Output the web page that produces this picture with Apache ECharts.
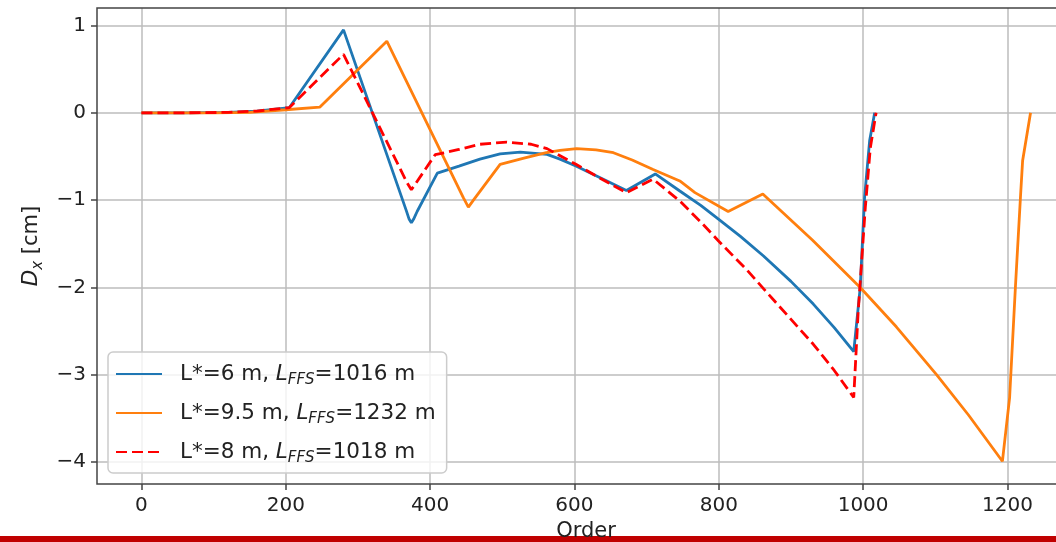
<!DOCTYPE html>
<html>
<head>
<meta charset="utf-8">
<script src="https://cdn.jsdelivr.net/npm/echarts@6/dist/echarts.min.js"></script>
<style>
html,body{margin:0;padding:0;background:#fff;overflow:hidden;width:1056px;height:542px;}
#c{position:relative;z-index:1;width:1080px;height:542px;}
#bar{position:absolute;left:0;top:536px;width:1056px;height:6px;background:#c00000;z-index:0;}
</style>
</head>
<body>
<div id="bar"></div>
<div id="c"></div>
<script>
// ---- data ----
const seriesNames = ['L*=6 m, {i|L}{s|FFS}=1016 m', 'L*=9.5 m, {i|L}{s|FFS}=1232 m', 'L*=8 m, {i|L}{s|FFS}=1018 m'];
const xTicks = [0, 200, 400, 600, 800, 1000, 1200];
const yTicks = [-4, -3, -2, -1, 0, 1];

const blueOrder = [0, 60, 120, 160, 205, 280, 367, 371, 374, 377, 382, 410, 440, 469, 497, 525, 562, 580, 602, 640, 672, 712, 746, 775, 800, 830, 862, 900, 931, 960, 987, 996, 1002, 1009, 1016];
const blueDx    = [0, 0, 0.005, 0.02, 0.06, 0.95, -1.12, -1.22, -1.26, -1.22, -1.13, -0.69, -0.61, -0.53, -0.47, -0.45, -0.476, -0.53, -0.61, -0.76, -0.89, -0.70, -0.895, -1.06, -1.22, -1.415, -1.64, -1.93, -2.19, -2.46, -2.735, -2.0, -0.97, -0.32, 0];

const orangeOrder = [0, 100, 150, 200, 247, 340, 446, 453, 460, 497, 530, 561, 580, 603, 630, 654, 680, 709, 746, 767, 813, 861, 930, 996, 1046, 1102, 1146, 1193, 1203, 1211, 1218, 1221, 1232];
const orangeDx    = [0, 0, 0.005, 0.035, 0.065, 0.82, -0.97, -1.08, -1.0, -0.59, -0.52, -0.457, -0.43, -0.41, -0.425, -0.457, -0.54, -0.65, -0.78, -0.914, -1.13, -0.93, -1.46, -2.0, -2.45, -3.0, -3.46, -3.99, -3.26, -2.0, -0.97, -0.55, 0];

const redOrder = [0, 60, 120, 160, 205, 280, 368, 374, 380, 407, 440, 469, 506, 540, 562, 602, 640, 672, 709, 746, 775, 800, 839, 880, 931, 960, 987, 993, 1003, 1010, 1018];
const redDx    = [0, 0, 0.005, 0.02, 0.06, 0.67, -0.8, -0.88, -0.81, -0.48, -0.42, -0.36, -0.335, -0.36, -0.41, -0.59, -0.77, -0.914, -0.76, -1.01, -1.25, -1.47, -1.8, -2.18, -2.65, -2.95, -3.26, -2.3, -1.09, -0.4, 0];

function pairs(xs, ys){ return xs.map((x,i)=>[x, ys[i]]); }
const fam = 'DejaVu Sans';
const txt = '#222';
const minus = v => String(v).replace('-', '\u2212');
const richSub = {
  i: {fontFamily: fam, fontSize: 21.5, fontStyle: 'italic', color: txt, lineHeight: 28},
  s: {fontFamily: fam, fontSize: 15, fontStyle: 'italic', color: txt, lineHeight: 15, verticalAlign: 'bottom'}
};

const chart = echarts.init(document.getElementById('c'), null, {renderer:'canvas'});
chart.setOption({
  animation: false,
  backgroundColor: 'transparent',
  grid: {left: 97, top: 8, right: 5, bottom: 58, outerBoundsMode: 'none', containLabel: false,
         show: true, borderColor: '#444', borderWidth: 1.5, backgroundColor: 'transparent', z: 3},
  xAxis: {
    type: 'value', min: -61.6, max: 1293.6,
    name: 'Order', nameLocation: 'middle', nameGap: 37,
    nameTextStyle: {fontFamily: fam, fontSize: 21, color: txt},
    axisLine: {show: false, onZero: false},
    axisTick: {show: true, customValues: xTicks, length: 6, lineStyle: {color: '#444', width: 1.5}},
    axisLabel: {customValues: xTicks, margin: 12, fontFamily: fam, fontSize: 20, color: txt, formatter: minus},
    splitLine: {show: true, lineStyle: {color: '#bdbdbd', width: 1.5}}
  },
  yAxis: {
    type: 'value', min: -4.25, max: 1.2,
    name: '{i|D}{s|x} [cm]', nameLocation: 'middle', nameGap: 51, nameRotate: 90,
    nameTextStyle: {fontFamily: fam, fontSize: 21, color: txt, lineHeight: 28, rich: richSub},
    axisLine: {show: false, onZero: false},
    axisTick: {show: true, customValues: yTicks, length: 6, lineStyle: {color: '#444', width: 1.5}},
    axisLabel: {customValues: yTicks, margin: 11, fontFamily: fam, fontSize: 20, color: txt, formatter: minus},
    splitLine: {show: true, lineStyle: {color: '#bdbdbd', width: 1.5}}
  },
  legend: {
    orient: 'vertical', left: 108, top: 352,
    itemWidth: 46, itemHeight: 14, itemGap: 11,
    padding: [8, 11, 7, 7],
    itemStyle: {opacity: 0, borderWidth: 0},
    backgroundColor: 'rgba(255,255,255,0.8)', borderColor: '#cccccc', borderWidth: 1.5, borderRadius: 5,
    textStyle: {fontFamily: fam, fontSize: 21.5, color: txt, lineHeight: 28, padding: [0, 0, 0, 13], rich: richSub},
    data: seriesNames
  },
  series: [
    {name: seriesNames[0], type: 'line', data: pairs(blueOrder, blueDx), symbol: 'none', showSymbol: false,
     lineStyle: {color: '#1f77b4', width: 2.8}, itemStyle: {color: '#1f77b4'}, z: 2},
    {name: seriesNames[1], type: 'line', data: pairs(orangeOrder, orangeDx), symbol: 'none', showSymbol: false,
     lineStyle: {color: '#ff7f0e', width: 2.8}, itemStyle: {color: '#ff7f0e'}, z: 2},
    {name: seriesNames[2], type: 'line', data: pairs(redOrder, redDx), symbol: 'none', showSymbol: false,
     lineStyle: {color: '#ff0000', width: 2.8, type: [11, 5]}, itemStyle: {color: '#ff0000'}, z: 2}
  ]
});
</script>
</body>
</html>
